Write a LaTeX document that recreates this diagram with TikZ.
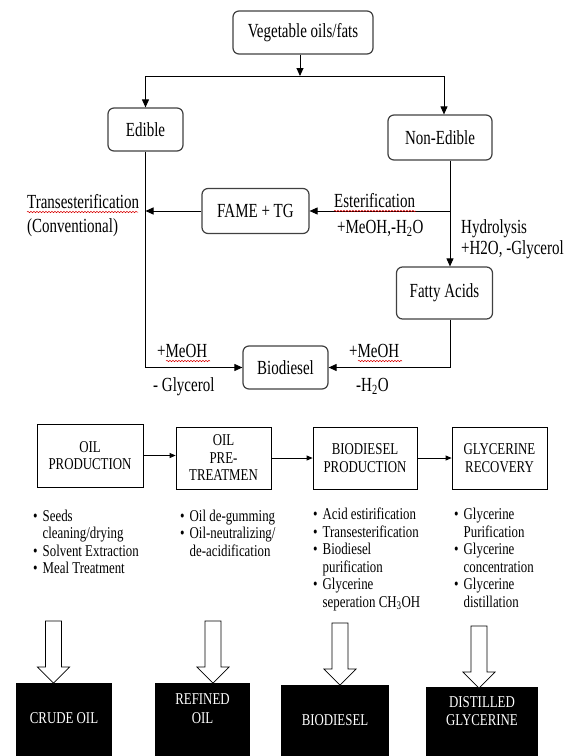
\documentclass[tikz,border=0pt]{standalone}
\usepackage{fontspec}
\setmainfont{Liberation Serif}[FakeStretch=0.75]
\newfontfamily\lowfont{Liberation Serif}[FakeStretch=0.78]
\usetikzlibrary{arrows.meta,decorations.pathmorphing}

\newcommand\bl{\makebox[9.5pt][l]{\textbullet}}
\newcommand\bc{\hspace*{9.5pt}}

\tikzset{
  flowbox/.style={draw=black!75, line width=1.2pt, rounded corners=6pt, inner sep=0pt,
    font=\fontsize{20}{24}\selectfont},
  note/.style={inner sep=0pt, anchor=base west, font=\fontsize{20}{24}\selectfont},
  flow/.style={line width=0.9pt, -{Triangle[length=8pt,width=7pt]}},
  squig/.style={red!85!black, line width=0.5pt, decorate,
    decoration={snake, amplitude=0.7pt, segment length=3pt}},
  stepbox/.style={draw, line width=0.8pt, inner sep=0pt, align=center,
    font=\lowfont\fontsize{16.5}{17.5}\selectfont},
  steparrow/.style={line width=0.8pt, -{Triangle[length=6pt,width=5pt]}},
  steplist/.style={inner sep=0pt, anchor=base west, align=left,
    font=\lowfont\fontsize{16.5}{17.5}\selectfont},
  outbox/.style={fill=black, inner sep=0pt},
  outtext/.style={text=white, align=center, inner sep=0pt,
    font=\lowfont\fontsize{16.5}{18.5}\selectfont}
}

\begin{document}
\begin{tikzpicture}[x=1pt, y=-1pt]
\useasboundingbox (0,0) rectangle (566,756);

% Feedstock boxes
\node[flowbox, minimum width=140pt, minimum height=43pt] (veg) at (303,32.5) {Vegetable oils/fats};
\node[flowbox, minimum width=75pt, minimum height=43pt] (edible) at (145.5,129.5) {Edible};
\node[flowbox, minimum width=104pt, minimum height=45pt] (nonedible) at (440,137.5) {Non-Edible};
\node[flowbox, minimum width=107pt, minimum height=45pt] (fame) at (255.5,211) {FAME + TG};
\node[flowbox, minimum width=96pt, minimum height=52pt] (fatty) at (444.5,293) {Fatty Acids};
\node[flowbox, minimum width=85pt, minimum height=43pt] (bio) at (285.5,367.5) {Biodiesel};

% Connectors
\coordinate (split) at (300,76);
\coordinate (ne) at ([xshift=10pt]nonedible.south);
\draw[flow] (veg.south -| split) -- (split);
\draw[flow] (split) -| (edible.north);
\draw[flow] (split) -| ([xshift=4pt]nonedible.north);
\draw[flow] (ne) -- (ne |- fatty.north);
\draw[flow] (ne |- fame.east) -- (fame.east);
\draw[flow] (fame.west) -- (fame.west -| edible.south);
\draw[flow] (edible.south) |- (bio.west);
\draw[flow] ([xshift=6pt]fatty.south) |- (bio.east);

% Labels
\node[note] (trans) at (27,208) {Transesterification};
\node[note] (conv) at (27,232) {(Conventional)};
\node[note] (ester) at (334,207) {Esterification};
\node[note] (estcond) at (337,233) {+MeOH,-H\textsubscript{2}O};
\node[note] (hydro) at (461,233) {Hydrolysis};
\node[note] (hydcond) at (461,254) {+H2O, -Glycerol};
\node[note] (meohl) at (157,357) {+MeOH};
\node[note] (glyl) at (153,391) {- Glycerol};
\node[note] (meohr) at (349,357) {+MeOH};
\node[note] (h2or) at (356,391) {-H\textsubscript{2}O};

% Spell-check marks
\draw[squig] (27,212) -- (138,212);
\draw[squig] (334,211) -- (416,211);
\draw[squig] (166,361) -- (210,361);
\draw[squig] (358,361) -- (402,361);

% Process steps
\node[stepbox, minimum width=106pt, minimum height=63pt] (oilprod) at (90,455.5) {OIL\\PRODUCTION};
\node[stepbox, minimum width=95pt, minimum height=62pt] (pretreat) at (223.5,458) {OIL\\PRE-\\TREATMEN};
\node[stepbox, minimum width=104pt, minimum height=62pt] (bioprod) at (365,458) {BIODIESEL\\PRODUCTION};
\node[stepbox, minimum width=95pt, minimum height=62pt] (glyrec) at (499.5,458) {GLYCERINE\\RECOVERY};
\draw[steparrow] (oilprod.east) -- (oilprod.east -| pretreat.west);
\draw[steparrow] (pretreat.east) -- (bioprod.west);
\draw[steparrow] (bioprod.east) -- (glyrec.west);

% Step details (placed by the baseline of the last line)
\node[steplist] (list1) at (33,573.5) {\bl Seeds\\\bc cleaning/drying\\\bl Solvent Extraction\\\bl Meal Treatment};
\node[steplist] (list2) at (180,556) {\bl Oil de-gumming\\\bl Oil-neutralizing/\\\bc de-acidification};
\node[steplist] (list3) at (313,607) {\bl Acid estirification\\\bl Transesterification\\\bl Biodiesel\\\bc purification\\\bl Glycerine\\\bc seperation CH\textsubscript{3}OH};
\node[steplist] (list4) at (454,607) {\bl Glycerine\\\bc Purification\\\bl Glycerine\\\bc concentration\\\bl Glycerine\\\bc distillation};

% Products
\node[outbox, minimum width=96pt, minimum height=73pt] (crude) at (64,719.5) {};
\node[outbox, minimum width=95pt, minimum height=73pt] (refined) at (202.5,719.5) {};
\node[outbox, minimum width=108pt, minimum height=71pt] (biodiesel) at (335,720.5) {};
\node[outbox, minimum width=112pt, minimum height=69pt] (distilled) at (482,721.5) {};
\node[outtext] (crudetxt) at (crude |- 0,717.7) {CRUDE OIL};
\node[outtext] (refinedtxt) at (refined |- 0,708.5) {REFINED\\OIL};
\node[outtext] (biodieseltxt) at (biodiesel |- 0,719.7) {BIODIESEL};
\node[outtext] (distilledtxt) at (distilled |- 0,711) {DISTILLED\\GLYCERINE};

% Hollow arrows
\foreach \ax/\at in {53.5/621, 213/621, 340/623, 479/626}
  \draw[line width=0.7pt, fill=white] (\ax-8,\at) -- (\ax+8,\at) -- (\ax+8,\at+46)
    -- (\ax+16,\at+46) -- (\ax,\at+62) -- (\ax-16,\at+46) -- (\ax-8,\at+46) -- cycle;
\end{tikzpicture}
\end{document}
